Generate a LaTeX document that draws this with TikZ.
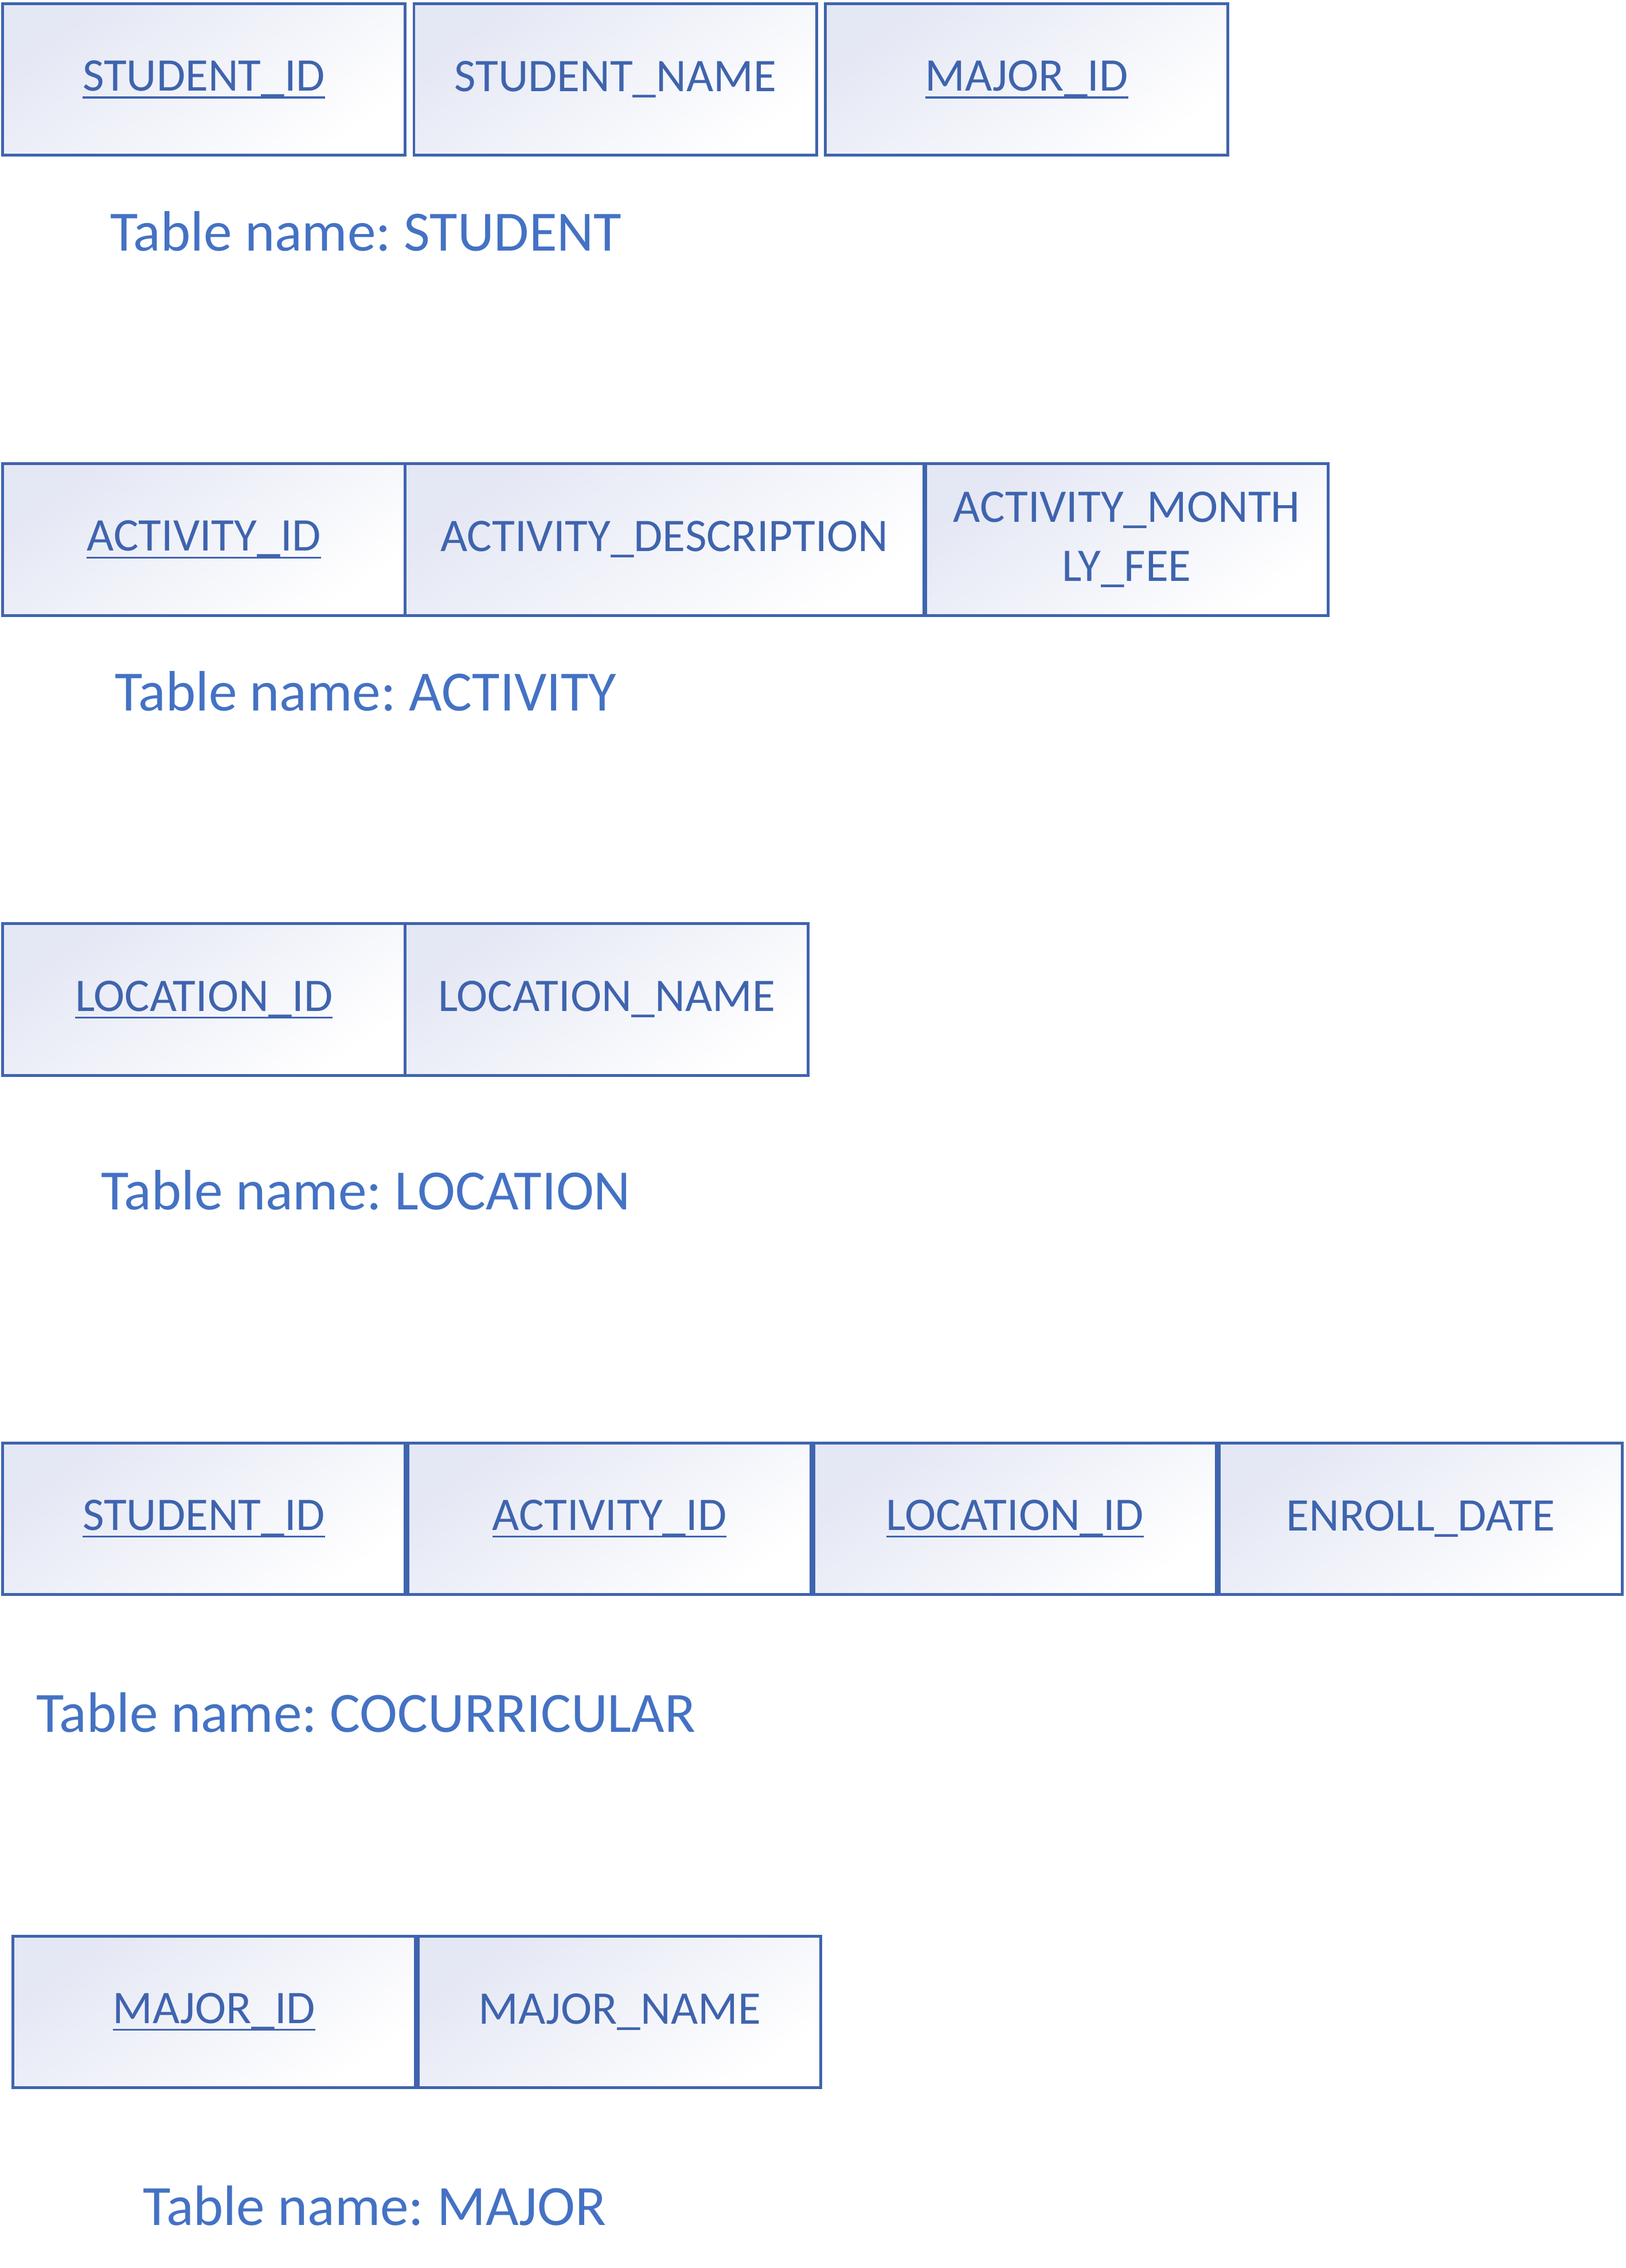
\documentclass[tikz,border=0pt]{standalone}
\usepackage{fontspec}
\setmainfont{Carlito}
\usepackage{tikz}
\usetikzlibrary{positioning}

\definecolor{boxblue}{HTML}{3F64AE}
\definecolor{labelblue}{HTML}{4472C4}
\definecolor{shadelav}{HTML}{E4E7F4}

\tikzset{
  field/.style={draw=boxblue, line width=1.4pt, top color=shadelav, bottom color=white,
    shading angle=35, minimum width=6.96cm, minimum height=2.62cm, inner sep=0pt,
    outer sep=0pt, text=boxblue, font=\fontsize{23}{29}\selectfont, align=center},
  widefield/.style={field, minimum width=8.96cm},
  tname/.style={text=labelblue, font=\fontsize{28}{34}\selectfont}
}
\newsavebox{\pkbox}
\newcommand{\pk}[1]{\sbox{\pkbox}{#1}\rlap{\rule[-3.6pt]{\wd\pkbox}{0.9pt}}\usebox{\pkbox}}
\frenchspacing

\begin{document}
\begin{tikzpicture}[x=0.025cm, y=-0.025cm]
\useasboundingbox (0,0) rectangle (1124,1568);

% Tabella STUDENT
\node[field] (stid) at (141,55) {\pk{STUDENT\_ID}};
\node[field, right=0.15cm of stid] (stname) {STUDENT\_NAME};
\node[field, right=0.15cm of stname] (stmajor) {\pk{MAJOR\_ID}};
\node[tname] (tstudent) at (253,160) {Table name: STUDENT};

% Tabella ACTIVITY
\node[field] (acid) at (141,373) {\pk{ACTIVITY\_ID}};
\node[widefield, right=0pt of acid] (acdesc) {ACTIVITY\_DESCRIPTION};
\node[field, right=0.03cm of acdesc] (acfee) {ACTIVITY\_MONTH\\LY\_FEE};
\node[tname] (tactivity) at (253,478) {Table name: ACTIVITY};

% Tabella LOCATION
\node[field] (loid) at (141,691) {\pk{LOCATION\_ID}};
\node[field, right=0pt of loid] (loname) {LOCATION\_NAME};
\node[tname] (tlocation) at (253,823) {Table name: LOCATION};

% Tabella COCURRICULAR
\node[field] (costid) at (141,1050) {\pk{STUDENT\_ID}};
\node[field, right=0.05cm of costid] (coacid) {\pk{ACTIVITY\_ID}};
\node[field, right=0.05cm of coacid] (coloid) {\pk{LOCATION\_ID}};
\node[field, right=0.05cm of coloid] (codate) {ENROLL\_DATE};
\node[tname] (tcocurr) at (253,1184) {Table name: COCURRICULAR};

% Tabella MAJOR
\node[field] (maid) at (148,1391) {\pk{MAJOR\_ID}};
\node[field, right=0.05cm of maid] (maname) {MAJOR\_NAME};
\node[tname] (tmajor) at (259,1525) {Table name: MAJOR};
\end{tikzpicture}
\end{document}
